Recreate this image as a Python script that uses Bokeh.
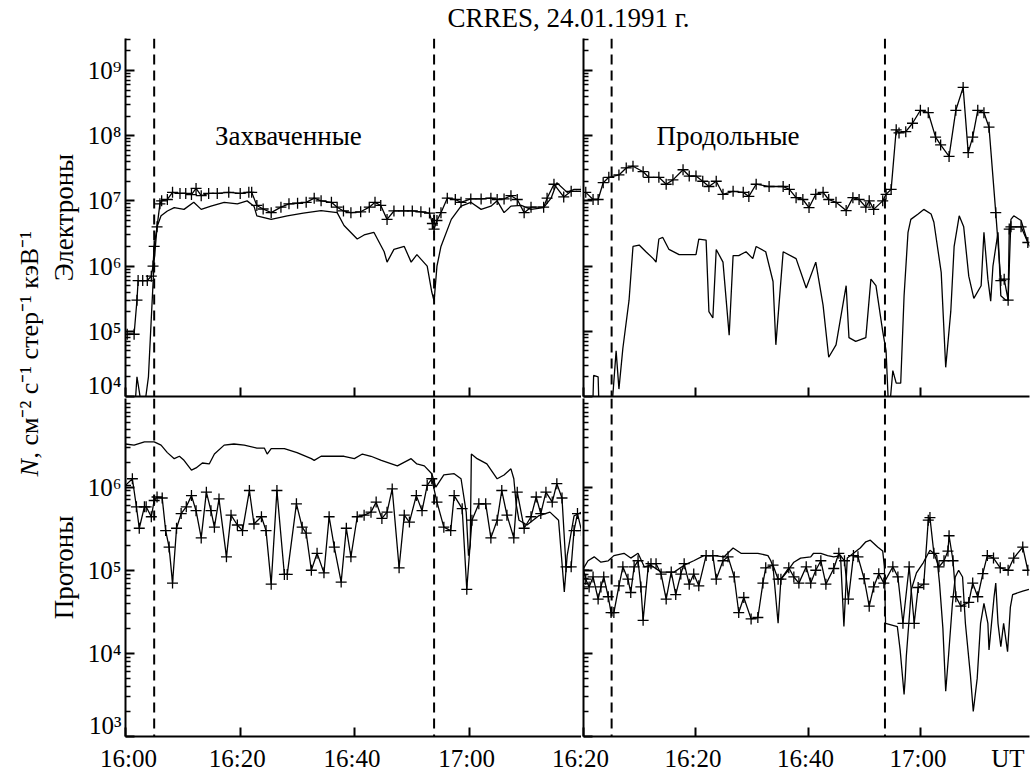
import math
from bokeh.plotting import figure
from bokeh.layouts import column, row
from bokeh.models import Range1d, FixedTicker, Span, CustomLabelingPolicy
from bokeh.embed import file_html
from bokeh.resources import INLINE
from bokeh.core.properties import value

# ---------------- texts ----------------
title_text = "CRRES, 24.01.1991 г."
ylabel_italic = "N"
ylabel_rest = ", см⁻² с⁻¹ стер⁻¹ кэВ⁻¹"
top_label = "Электроны"
bottom_label = "Протоны"
left_note = "Захваченные"
right_note = "Продольные"
unit_label = "UT"

# time axis: minutes after 16:00 UT
x_tick_values = [0, 20, 40, 60]
left_tick_labels = ["16:00", "16:20", "16:40", "17:00"]
right_tick_labels = ["16:20", "16:20", "16:40", "17:00"]
left_dashes = [5.0, 53.8]
right_dashes = [5.0, 53.6]

top_decades = [4, 5, 6, 7, 8, 9]
bottom_decades = [3, 4, 5, 6]

# ---------------- data: top-left (electrons, trapped) ----------------
tl_plus_t = [0.3, 1.5, 2.0, 2.2, 3.0, 3.8, 4.5, 4.8, 5.0, 5.5, 6.0, 6.3, 7.3, 8.2, 9.5, 10.5, 11.5, 12.3, 13.2, 14.5,
             16.0, 18.0, 20.0, 21.5, 22.0, 22.9, 24.0, 25.4, 27.1, 28.5, 30.0, 31.5, 32.9, 34.1, 35.9, 36.9, 38.0, 39.3,
             41.0, 42.5, 43.5, 44.5, 45.6, 46.8, 48.5, 50.0, 51.5, 53.0, 53.5, 53.8, 54.3, 55.0, 56.1, 57.5, 58.5, 60.2,
             62.0, 63.7, 64.8, 66.0, 67.2, 68.3, 69.5, 70.7, 72.9, 73.5, 74.7, 76.4, 77.7, 79.5]
tl_plus_v = [9e4, 9e4, 3e5, 6e5, 6e5, 6e5, 7e5, 1e6, 2e6, 4e6, 9e6, 1e7, 1.05e7, 1.35e7, 1.3e7, 1.3e7, 1.25e7, 1.55e7,
             1.2e7, 1.3e7, 1.3e7, 1.35e7, 1.3e7, 1.35e7, 1.35e7, 8.5e6, 7.5e6, 6.6e6, 8e6, 9e6, 9.2e6, 9.5e6, 1.1e7, 1e7,
             9.5e6, 8e6, 7e6, 6.6e6, 6.8e6, 8e6, 9.5e6, 8.5e6, 5.2e6, 7e6, 7e6, 7e6, 6.8e6, 6.5e6, 4.5e6, 3.7e6, 5e6,
             6.6e6, 1.1e7, 1.05e7, 9.5e6, 1.07e7, 1.07e7, 1.1e7, 1.05e7, 1.07e7, 1.2e7, 1.05e7, 6.6e6, 8e6, 8e6, 1.1e7,
             1.8e7, 1.15e7, 1.4e7, 1.4e7]
tl_line_t = [0.0, 1.6, 2.0, 2.4, 2.9, 3.4, 4.0, 4.5, 5.0, 5.5, 6.2, 7.3, 8.5, 10.2, 11.9, 13.2, 14.9, 17.2, 19.5, 21.2,
             22.4, 22.9, 25.4, 28.2, 31.0, 34.1, 36.9, 38.1, 40.4, 41.6, 43.3, 45.1, 45.6, 46.8, 48.6, 49.8, 50.8, 52.6,
             53.4, 53.8, 54.3, 55.0, 56.8, 58.5, 60.2, 62.0, 63.7, 64.8, 66.0, 67.2, 69.0, 70.7, 72.9, 74.2, 75.2, 77.0,
             78.2, 79.5]
tl_line_v = [5e3, 6e3, 2e4, 1.2e4, 6e3, 8e3, 2e4, 1.6e5, 1.2e6, 4e6, 5.9e6, 7e6, 7.9e6, 7.4e6, 9.5e6, 7.4e6, 8.3e6,
             9.5e6, 9e6, 1e7, 8.3e6, 5.9e6, 5.2e6, 5.9e6, 6.5e6, 7.1e6, 6.6e6, 4.2e6, 2.6e6, 3e6, 3.3e6, 1.66e6, 1.15e6,
             1.8e6, 2e6, 1.15e6, 1.5e6, 1e6, 4e5, 2.9e5, 1e6, 2e6, 5.2e6, 8.3e6, 9.5e6, 7.4e6, 8.3e6, 1e7, 6.6e6, 8.3e6,
             8.5e6, 7.4e6, 7.9e6, 1.1e7, 1.9e7, 1.35e7, 1.5e7, 1.5e7]

# ---------------- data: top-right (electrons, field-aligned) ----------------
tr_plus_t = [0.4, 1.7, 2.6, 3.5, 4.5, 6.3, 7.6, 8.8, 10.6, 11.6, 13.4, 14.7, 15.9, 17.7, 18.8, 20.0, 21.2, 22.3, 23.6,
             24.8, 26.6, 28.4, 29.4, 30.7, 33.0, 35.5, 36.6, 37.8, 39.0, 40.1, 41.3, 42.6, 43.6, 44.9, 46.7, 47.9, 49.0,
             50.2, 50.8, 51.6, 53.2, 53.8, 54.7, 55.6, 56.1, 57.3, 58.5, 59.9, 61.3, 62.6, 63.5, 65.0, 66.2, 67.5, 68.4,
             69.2, 70.1, 71.2, 72.1, 73.3, 74.2, 74.8, 75.5, 75.7, 76.0, 77.8, 79.0]
tr_plus_v = [1.35e7, 1.05e7, 1.05e7, 1.9e7, 2.3e7, 2.5e7, 3.2e7, 3.4e7, 2.8e7, 2.3e7, 2.3e7, 1.8e7, 2.1e7, 3e7, 2.4e7,
             2.4e7, 2e7, 1.66e7, 2e7, 1.26e7, 1.4e7, 1.35e7, 1.17e7, 1.8e7, 1.66e7, 1.66e7, 1.5e7, 1.12e7, 1.05e7,
             7.9e6, 1.26e7, 1.35e7, 1.05e7, 9.5e6, 7.1e6, 1.12e7, 1.05e7, 8e6, 1e7, 7.4e6, 1e7, 1.26e7, 1.5e7, 1.23e8,
             1.1e8, 1.15e8, 1.55e8, 2.45e8, 2.25e8, 9.5e7, 7.2e7, 4.8e7, 2.45e8, 5.5e8, 5.5e7, 9.5e7, 2.45e8, 2.25e8,
             1.35e8, 6.6e6, 6e5, 6.3e5, 3e5, 3.7e6, 4e6, 4e6, 2.3e6]
tr_line_t = [0.3, 1.6, 1.8, 2.6, 2.8, 4.5, 5.2, 5.8, 6.3, 7.0, 8.1, 8.8, 9.9, 11.1, 12.4, 12.9, 13.4, 14.1, 15.2, 17.0,
             20.0, 20.5, 21.8, 22.3, 23.0, 23.6, 24.8, 25.9, 26.6, 27.6, 28.9, 30.1, 30.7, 32.4, 33.7, 34.2, 35.5, 37.8,
             39.6, 41.3, 42.6, 43.6, 44.9, 46.7, 47.2, 48.4, 50.2, 51.1, 52.0, 53.2, 53.8, 54.3, 55.0, 55.6, 56.4, 57.0,
             57.7, 58.2, 59.5, 60.5, 61.8, 62.3, 63.6, 64.4, 65.3, 65.9, 66.8, 67.6, 68.5, 69.4, 70.7, 71.2, 71.9, 72.4,
             72.8, 73.7, 74.2, 75.1, 75.5, 76.0, 76.5, 77.8, 79.0, 79.3]
tr_line_v = [5e3, 5e3, 2.1e4, 2e4, 5e3, 5e3, 1e4, 5e4, 1.3e4, 5.5e4, 3e5, 2e6, 2.1e6, 1.66e6, 1.3e6, 1.15e6, 2.6e6,
             2.75e6, 1.8e6, 1.5e6, 1.5e6, 2.6e6, 2.5e6, 2e5, 1.6e5, 1.8e6, 1.15e6, 8.7e4, 1.45e6, 1.45e6, 1.66e6, 1.3e6,
             2e6, 1.66e6, 5.8e5, 6.2e4, 1.66e6, 1.3e6, 4.6e5, 1.15e6, 2.5e5, 4e4, 6.2e4, 5e5, 8e4, 7e4, 8e4, 6.3e5, 5e5,
             1e5, 5e4, 5e3, 2.5e4, 1.6e4, 1.6e4, 3.5e5, 3.3e6, 5.2e6, 6.3e6, 7.4e6, 6.3e6, 4.7e6, 8e5, 2.8e4, 2e5, 2e6,
             5.9e6, 4e6, 7e5, 3.2e5, 5e5, 3.3e6, 6.3e5, 2.9e5, 1e6, 3.3e6, 3.5e5, 3e5, 3e5, 5.2e6, 5.9e6, 5e6, 2.3e6,
             2e6]

# ---------------- data: bottom-left (protons, trapped) ----------------
bl_plus_t = [0.0, 1.2, 1.9, 2.4, 3.3, 3.6, 4.5, 5.0, 5.5, 6.4, 7.0, 7.6, 8.2, 8.9, 9.7, 10.6, 11.5, 12.3, 13.2, 14.1,
             14.9, 15.5, 16.3, 17.6, 18.4, 19.5, 20.4, 21.6, 22.4, 23.7, 24.5, 25.4, 26.4, 27.7, 28.2, 29.8, 30.8, 31.5,
             32.4, 33.4, 34.6, 35.5, 36.4, 37.6, 38.5, 39.3, 40.4, 41.6, 42.8, 43.7, 44.7, 45.6, 46.5, 47.7, 48.6, 49.5,
             50.7, 51.7, 52.6, 53.4, 54.3, 55.5, 56.7, 57.3, 58.7, 59.5, 60.4, 61.6, 62.8, 63.7, 64.8, 65.6, 66.5, 67.7,
             68.3, 69.5, 70.7, 71.6, 72.4, 73.3, 74.4, 75.2, 76.1, 76.8, 77.7, 78.2, 78.8, 79.5]
bl_plus_v = [1.05e6, 1.26e6, 5.8e5, 3.2e5, 5.8e5, 5.8e5, 4.4e5, 6.9e5, 7.6e5, 7.4e5, 3e5, 1.9e5, 7e4, 3.2e5, 4.8e5,
             5.8e5, 7.9e5, 5.2e5, 2.45e5, 8.7e5, 5.2e5, 3.3e5, 7.2e5, 1.45e5, 4.6e5, 3.5e5, 3e5, 9.1e5, 3.6e5, 4.4e5,
             3e5, 6.8e4, 9.1e5, 8.9e4, 8.9e4, 6.3e5, 3.3e5, 2.8e5, 1e5, 1.6e5, 9.3e4, 4.4e5, 1.9e5, 7.2e4, 3.2e5,
             1.45e5, 4.4e5, 4.6e5, 5e5, 6.6e5, 4.2e5, 5e5, 9.5e5, 1.07e5, 4.6e5, 3.8e5, 7.9e5, 5.2e5, 1.05e6, 1.26e6,
             6.6e5, 3.3e5, 3e5, 7.9e5, 5.5e5, 5.9e4, 4e5, 6.3e5, 6.3e5, 2.45e5, 4e5, 9.1e5, 4.6e5, 2.45e5, 8.7e5,
             3.2e5, 4.4e5, 7.6e5, 4.8e5, 8.7e5, 6.6e5, 1.1e6, 7.4e5, 1.1e5, 1.1e5, 3e5, 4.8e5, 3e5]
bl_line_t = [0.0, 1.5, 3.3, 5.0, 6.2, 7.3, 8.5, 9.4, 10.2, 11.5, 12.3, 13.4, 14.6, 15.5, 17.2, 18.9, 20.7, 22.9, 24.2,
             24.7, 25.4, 27.7, 29.9, 32.4, 32.9, 34.1, 38.1, 39.9, 41.3, 42.8, 44.6, 47.4, 49.8, 50.8, 52.1, 53.4, 54.1,
             55.5, 57.3, 58.5, 59.4, 59.8, 60.1, 60.3, 61.3, 63.0, 64.8, 66.0, 67.2, 67.7, 68.1, 68.6, 70.0, 72.0, 74.0,
             75.5, 76.2, 76.5, 77.0, 78.2, 79.5]
bl_line_v = [3.3e6, 3.2e6, 3.5e6, 3.5e6, 3.2e6, 2.6e6, 2.2e6, 2.35e6, 2.1e6, 1.6e6, 1.7e6, 1.95e6, 1.9e6, 2.5e6, 3.2e6,
             3.3e6, 3.2e6, 2.95e6, 2.95e6, 2.5e6, 2.9e6, 2.9e6, 2.6e6, 2.2e6, 2.1e6, 2.35e6, 2.35e6, 2.2e6, 2.5e6,
             2.35e6, 2.1e6, 1.8e6, 2.2e6, 1.9e6, 1.8e6, 1.45e6, 1e6, 1.4e6, 1.45e6, 1.26e6, 5e5, 1.5e5, 2e5, 2.5e6,
             2.2e6, 1.9e6, 1.26e6, 1.4e6, 1.66e6, 1.26e6, 6.3e5, 4e5, 3.5e5, 4.5e5, 5e5, 4e5, 1e5, 5.5e4, 1.5e5, 4.5e5,
             5e5]

# ---------------- data: bottom-right (protons, field-aligned) ----------------
br_plus_t = [0.0, 0.4, 1.0, 1.7, 2.6, 3.1, 3.6, 4.4, 4.9, 5.4, 6.3, 7.0, 7.9, 8.4, 9.0, 9.7, 10.2, 10.6, 11.5, 12.0,
             12.9, 13.8, 14.7, 15.6, 16.4, 17.3, 17.9, 18.8, 19.6, 20.5, 21.8, 23.0, 23.6, 24.8, 25.7, 26.8, 27.6, 28.5,
             29.8, 31.0, 31.9, 32.4, 33.7, 34.6, 35.1, 36.5, 37.4, 38.3, 39.6, 40.4, 41.3, 42.2, 43.1, 44.5, 45.4, 46.4,
             47.1, 48.0, 48.8, 49.9, 50.8, 51.6, 52.5, 53.4, 55.0, 55.9, 56.8, 57.9, 58.8, 59.5, 60.5, 61.3, 61.6, 62.3,
             63.2, 64.1, 64.8, 65.0, 65.7, 66.2, 67.1, 68.5, 69.2, 70.1, 71.0, 71.8, 72.9, 74.1, 75.5, 76.5, 78.1, 79.0]
br_plus_v = [1e5, 7.8e4, 6.3e4, 8.3e4, 4.5e4, 6.3e4, 8.3e4, 4.8e4, 3.1e4, 3.1e4, 6.5e4, 1.1e5, 7.8e4, 5.4e4, 1.1e5,
             1.3e5, 6.3e4, 2.5e4, 1.1e5, 1.2e5, 1.2e5, 9e4, 4.5e4, 9.5e4, 5.1e4, 9e4, 1.2e5, 6.8e4, 9e4, 6.5e4, 1.5e5,
             1.5e5, 7.8e4, 1.3e5, 1.45e5, 8.3e4, 3.1e4, 4.7e4, 2.6e4, 2.7e4, 7e4, 1.07e5, 1.15e5, 7.8e4, 7.8e4, 1.07e5,
             8.3e4, 7e4, 1.1e5, 7e4, 1e5, 1.3e5, 6.8e4, 1.05e5, 1.6e5, 1.3e5, 4.5e4, 1.5e5, 1.45e5, 7.9e4, 3.7e4,
             6.3e4, 9.1e4, 7e4, 1.1e5, 8.3e4, 2.3e4, 1.1e5, 2.3e4, 6.2e4, 6.8e4, 4e5, 4.3e5, 1.6e5, 1.1e5, 1.3e5, 1.7e5,
             2.6e5, 1.3e5, 4.8e4, 3.7e4, 4.1e4, 7e4, 4.8e4, 9.1e4, 1.5e5, 1.4e5, 1.07e5, 1e5, 1.4e5, 1.9e5, 1e5]
br_line_t = [0.0, 0.8, 1.9, 3.1, 4.4, 5.4, 7.2, 8.4, 9.7, 10.8, 12.0, 13.8, 16.1, 17.9, 19.6, 21.4, 23.2, 25.0, 26.6,
             28.0, 31.0, 32.8, 33.3, 33.7, 34.6, 35.1, 36.3, 37.4, 38.6, 40.4, 40.9, 42.2, 43.4, 44.5, 45.7, 46.3, 46.9,
             48.0, 49.2, 50.2, 51.0, 52.3, 53.2, 53.5, 53.7, 55.8, 56.3, 57.0, 57.2, 57.4, 58.3, 59.2, 60.4, 61.6, 62.8,
             63.3, 63.9, 64.4, 64.9, 65.6, 66.1, 66.7, 67.4, 67.9, 68.8, 69.3, 70.0, 70.6, 71.2, 71.9, 72.1, 73.0, 73.3,
             73.7, 74.2, 74.7, 75.4, 75.9, 76.3, 78.1, 79.2]
br_line_v = [1.05e5, 1.3e5, 1.45e5, 1.25e5, 1.3e5, 1.5e5, 1.6e5, 1.4e5, 1.6e5, 1.1e5, 1.15e5, 9.5e4, 9.5e4, 1.15e5,
             1.3e5, 1.5e5, 1.5e5, 1.45e5, 1.85e5, 1.6e5, 1.6e5, 1.5e5, 1.3e5, 1.1e5, 2.3e4, 7.8e4, 9.8e4, 1.25e5, 1.4e5,
             1.45e5, 1.6e5, 1.6e5, 1.5e5, 1.45e5, 1.5e5, 2.1e4, 1.4e5, 1.6e5, 1.85e5, 2.2e5, 2.3e5, 1.9e5, 1.7e5, 1.1e5,
             2.3e4, 2.1e4, 1.1e4, 3.2e3, 5e3, 9.3e3, 5.9e4, 9.3e4, 1.23e5, 1.74e5, 1.5e5, 7e4, 2e4, 3.5e3, 9.3e3, 4e4,
             8.3e4, 1e5, 8.3e4, 2.3e4, 5.4e3, 2e3, 5e3, 2.3e4, 4e4, 2.3e4, 1.1e4, 4.8e4, 7e4, 2.3e4, 1.2e4, 2.3e4,
             1.05e4, 3.6e4, 5.1e4, 5.6e4, 5.9e4]

# ---------------- layout (pixels) ----------------
FONT = "Liberation Serif"
SUP = str.maketrans("0123456789-", "⁰¹²³⁴⁵⁶⁷⁸⁹⁻")
W = 1030
TITLE_H = 38
STRIP_H = 36
LABEL_W = 45
AXIS_W = 77
LEFT_FW = 456
RIGHT_FW = 446
RIGHT_LB = 2
RIGHT_PAD = W - LABEL_W - AXIS_W - LEFT_FW - RIGHT_LB - RIGHT_FW
BOTTOM_B = 2
TOP_FH = 358
BOT_FH = 338
LEFT_END = 79.5
RIGHT_END = 79.3
TOP_YR = (1e4, 10 ** 9.49)
BOT_YR = (1e3, 10 ** 7.066)
TICK_FS = "25px"
LABEL_FS = "27px"

NO_LABELS = CustomLabelingPolicy(code="for (const i of Array.from(indices)) { indices.unset(i) }")


def hide_labels(ax, ticks):
    # tick marks only: plain-text labels of zero size, filtered out before drawing
    ax.major_label_overrides = {t: str(t) for t in ticks}
    ax.major_label_text_font_size = "0px"
    ax.major_label_standoff = 0
    ax.major_label_policy = NO_LABELS


def make_panel(is_left, is_top):
    fw = LEFT_FW if is_left else RIGHT_FW
    fh = TOP_FH if is_top else BOT_FH
    p = figure(frame_width=fw, frame_height=fh,
               x_range=Range1d(0, LEFT_END if is_left else RIGHT_END),
               y_range=Range1d(*(TOP_YR if is_top else BOT_YR)),
               y_axis_type="log", output_backend="svg", toolbar_location=None,
               min_border_left=AXIS_W if is_left else RIGHT_LB,
               min_border_right=0 if is_left else RIGHT_PAD,
               min_border_top=0, min_border_bottom=BOTTOM_B,
               outline_line_color=None, background_fill_color="white", border_fill_color="white")
    p.xgrid.visible = False
    p.ygrid.visible = False

    xa = p.xaxis[0]
    xa.ticker = FixedTicker(ticks=x_tick_values)
    xa.major_tick_in = 9
    xa.major_tick_out = 0
    xa.minor_tick_line_color = None
    xa.axis_line_width = 2
    xa.axis_line_color = "black"
    xa.major_tick_line_width = 2
    xa.major_tick_line_color = "black"
    hide_labels(xa, x_tick_values)

    decs = top_decades if is_top else bottom_decades
    majors = [10 ** k for k in decs]
    minors = [m * 10 ** k for k in range(decs[0] - 1, decs[-1] + 1) for m in range(2, 10)]
    if not is_top:
        minors = minors + [10 ** (decs[-1] + 1)]
    ya = p.yaxis[0]
    ya.ticker = FixedTicker(ticks=majors, minor_ticks=minors)
    ya.major_tick_in = 9
    ya.major_tick_out = 0
    ya.minor_tick_in = 5
    ya.minor_tick_out = 0
    ya.axis_line_width = 2
    ya.axis_line_color = "black"
    ya.major_tick_line_width = 2
    ya.major_tick_line_color = "black"
    ya.minor_tick_line_width = 1.5
    ya.minor_tick_line_color = "black"
    if is_left:
        ya.major_label_overrides = {10 ** k: "10" + str(k).translate(SUP) for k in decs}
        ya.major_label_text_font = FONT
        ya.major_label_text_font_size = TICK_FS
        ya.major_label_text_color = "black"
        ya.major_label_standoff = 4
        ya.axis_label = top_label if is_top else bottom_label
        ya.axis_label_text_font = FONT
        ya.axis_label_text_font_size = LABEL_FS
        ya.axis_label_text_font_style = "normal"
        ya.axis_label_text_color = "black"
        ya.axis_label_standoff = 6
    else:
        hide_labels(ya, majors)

    for d in (left_dashes if is_left else right_dashes):
        p.add_layout(Span(location=d, dimension="height", line_color="black", line_width=2, line_dash="10 6"))
    return p


def draw(p, plus_t, plus_v, line_t, line_v):
    p.line(line_t, line_v, line_color="black", line_width=1.3)
    p.line(plus_t, plus_v, line_color="black", line_width=1.3)
    p.scatter(plus_t, plus_v, marker="cross", size=11, line_color="black", line_width=1.3)


tl = make_panel(True, True)
tr = make_panel(False, True)
bl = make_panel(True, False)
br = make_panel(False, False)
draw(tl, tl_plus_t, tl_plus_v, tl_line_t, tl_line_v)
draw(tr, tr_plus_t, tr_plus_v, tr_line_t, tr_line_v)
draw(bl, bl_plus_t, bl_plus_v, bl_line_t, bl_line_v)
draw(br, br_plus_t, br_plus_v, br_line_t, br_line_v)

tl.text(x=[28.4], y=[1.0e8], text=[left_note], text_align="center", text_baseline="alphabetic",
        text_font=value(FONT), text_font_size=LABEL_FS, text_color="black")
tr.text(x=[25.7], y=[1.0e8], text=[right_note], text_align="center", text_baseline="alphabetic",
        text_font=value(FONT), text_font_size=LABEL_FS, text_color="black")


def blank(width, height, xr, yr):
    f = figure(width=width, height=height, x_range=xr, y_range=yr, min_border=0,
               x_axis_location=None, y_axis_location=None, toolbar_location=None,
               output_backend="svg", outline_line_color=None)
    f.xgrid.visible = False
    f.ygrid.visible = False
    return f


# title strip
title_fig = blank(W, TITLE_H, Range1d(0, W), Range1d(0, TITLE_H))
title_fig.text(x=[568], y=[TITLE_H - 17], text=[title_text], text_align="center", text_baseline="middle",
               text_font=value(FONT), text_font_size="27px", text_color="black")

# left strip with the common y label
PANEL_H = TOP_FH + BOT_FH + 2 * BOTTOM_B
label_fig = blank(LABEL_W, PANEL_H, Range1d(0, LABEL_W), Range1d(0, PANEL_H))
N_BOTTOM = 262
label_fig.text(x=[29], y=[N_BOTTOM], text=[ylabel_italic], angle=math.pi / 2, text_align="left",
               text_baseline="middle", text_font=value(FONT), text_font_size="26px",
               text_font_style="italic", text_color="black")
label_fig.text(x=[29], y=[N_BOTTOM + 18], text=[ylabel_rest], angle=math.pi / 2, text_align="left",
               text_baseline="middle", text_font=value(FONT), text_font_size="26px", text_color="black")

# bottom strip with time labels, using the panels' own time scales
lscale = LEFT_FW / LEFT_END
rscale = RIGHT_FW / RIGHT_END
l0 = LABEL_W + AXIS_W
r0 = LABEL_W + AXIS_W + LEFT_FW + RIGHT_LB
strip = blank(W, STRIP_H, Range1d(-l0 / lscale, (W - l0) / lscale), Range1d(0, STRIP_H))
strip.extra_x_ranges = {"right": Range1d(-r0 / rscale, (W - r0) / rscale)}
strip.text(x=x_tick_values[:1], y=[16], text=left_tick_labels[:1], text_align="center", text_baseline="middle",
           text_font=value(FONT), text_font_size=TICK_FS, text_color="black", x_offset=6)
strip.text(x=x_tick_values[1:], y=[16] * 3, text=left_tick_labels[1:], text_align="center", text_baseline="middle",
           text_font=value(FONT), text_font_size=TICK_FS, text_color="black")
strip.text(x=x_tick_values, y=[16] * 4, text=right_tick_labels, text_align="center", text_baseline="middle",
           text_font=value(FONT), text_font_size=TICK_FS, text_color="black", x_range_name="right")
strip.text(x=[76], y=[16], text=[unit_label], text_align="center", text_baseline="middle",
           text_font=value(FONT), text_font_size=TICK_FS, text_color="black", x_range_name="right")

layout = column(title_fig,
                row(label_fig, column(row(tl, tr), row(bl, br))),
                strip)

open("out.html", "w").write(file_html(layout, INLINE))
